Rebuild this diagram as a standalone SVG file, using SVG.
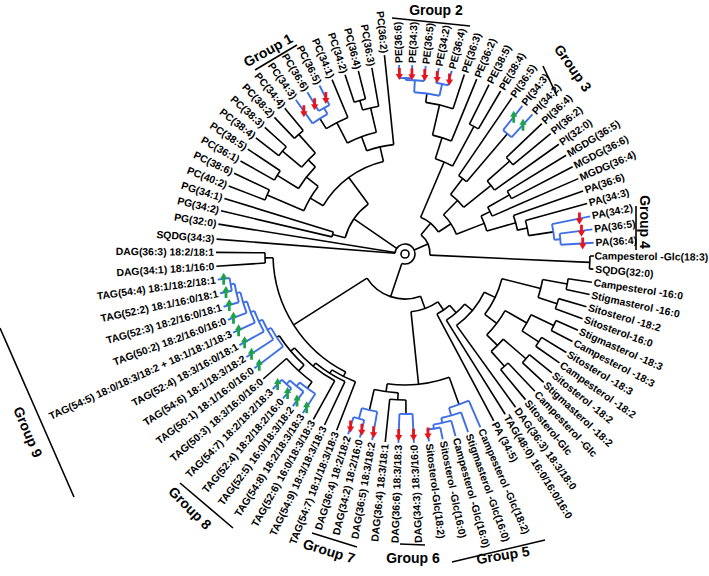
<svg xmlns="http://www.w3.org/2000/svg" width="709" height="576" viewBox="0 0 709 576">
<style>
.k line,.k circle{stroke:#000;stroke-width:1.6;fill:none}
.b line,.b circle{stroke:#3f6fe6;stroke-width:1.9;fill:none}
text{font-family:"Liberation Sans",Arial,sans-serif;fill:#000}
.l{font-size:10.4px;font-weight:bold;dominant-baseline:central}
.e{text-anchor:end}
.g{font-size:14px;font-weight:bold;text-anchor:middle;dominant-baseline:central}
.gl{stroke:#000;stroke-width:1.6}
</style>
<defs>
<path id="dn" d="M-1.4,-6H1.4V0H3.6L0,6L-3.6,0H-1.4Z" fill="#e8141c"/>
<path id="up" d="M-1.4,6H1.4V0H3.6L0,-6L-3.6,0H-1.4Z" fill="#1ca34a"/>
</defs>
<rect width="709" height="576" fill="#fff"/>
<g id="connectors" transform="translate(405 254)">
<g class="k">
<line x1="158" x2="166" transform="rotate(126.03)"/><line x1="158" x2="189" transform="rotate(138.6)"/><circle r="158" pathLength="360" stroke-dasharray="12.57 720" transform="rotate(126.03)"/>
<line x1="150" x2="158" transform="rotate(132.3)"/><line x1="150" x2="153" transform="rotate(146.97)"/><circle r="150" pathLength="360" stroke-dasharray="14.67 720" transform="rotate(132.3)"/>
<line x1="145" x2="189" transform="rotate(119)"/><line x1="145" x2="150" transform="rotate(139.6)"/><circle r="145" pathLength="360" stroke-dasharray="20.6 720" transform="rotate(119)"/>
<line x1="141" x2="189" transform="rotate(115.2)"/><line x1="141" x2="145" transform="rotate(129.3)"/><circle r="141" pathLength="360" stroke-dasharray="14.1 720" transform="rotate(115.2)"/>
<line x1="137" x2="189" transform="rotate(111.2)"/><line x1="137" x2="141" transform="rotate(122.25)"/><circle r="137" pathLength="360" stroke-dasharray="11.05 720" transform="rotate(111.2)"/>
<line x1="140" x2="189" transform="rotate(176.3)"/><line x1="140" x2="189" transform="rotate(180.5)"/><circle r="140" pathLength="360" stroke-dasharray="4.2 720" transform="rotate(176.3)"/>
<line x1="132" x2="137" transform="rotate(116.7)"/><line x1="132" x2="140" transform="rotate(178.4)"/><circle r="132" pathLength="360" stroke-dasharray="61.7 720" transform="rotate(116.7)"/>
<line x1="146" x2="160" transform="rotate(89.65)"/><line x1="146" x2="189" transform="rotate(96)"/><circle r="146" pathLength="360" stroke-dasharray="6.35 720" transform="rotate(89.65)"/>
<line x1="139" x2="146" transform="rotate(92.83)"/><line x1="139" x2="160" transform="rotate(102.83)"/><circle r="139" pathLength="360" stroke-dasharray="10 720" transform="rotate(92.83)"/>
<line x1="131" x2="160" transform="rotate(70.26)"/><line x1="131" x2="139" transform="rotate(97.83)"/><circle r="131" pathLength="360" stroke-dasharray="27.57 720" transform="rotate(70.26)"/>
<line x1="165" x2="189" transform="rotate(8.6)"/><line x1="165" x2="189" transform="rotate(12.4)"/><circle r="165" pathLength="360" stroke-dasharray="3.8 720" transform="rotate(8.6)"/>
<line x1="160" x2="189" transform="rotate(16.2)"/><line x1="160" x2="189" transform="rotate(20)"/><circle r="160" pathLength="360" stroke-dasharray="3.8 720" transform="rotate(16.2)"/>
<line x1="140" x2="165" transform="rotate(10.5)"/><line x1="140" x2="160" transform="rotate(18.1)"/><circle r="140" pathLength="360" stroke-dasharray="7.6 720" transform="rotate(10.5)"/>
<line x1="165" x2="189" transform="rotate(23.8)"/><line x1="165" x2="189" transform="rotate(27.6)"/><circle r="165" pathLength="360" stroke-dasharray="3.8 720" transform="rotate(23.8)"/>
<line x1="160" x2="189" transform="rotate(31.4)"/><line x1="160" x2="189" transform="rotate(35.2)"/><circle r="160" pathLength="360" stroke-dasharray="3.8 720" transform="rotate(31.4)"/>
<line x1="140" x2="165" transform="rotate(25.7)"/><line x1="140" x2="160" transform="rotate(33.3)"/><circle r="140" pathLength="360" stroke-dasharray="7.6 720" transform="rotate(25.7)"/>
<line x1="160" x2="189" transform="rotate(39)"/><line x1="160" x2="189" transform="rotate(42.8)"/><circle r="160" pathLength="360" stroke-dasharray="3.8 720" transform="rotate(39)"/>
<line x1="150" x2="189" transform="rotate(46.6)"/><line x1="150" x2="189" transform="rotate(50.4)"/><circle r="150" pathLength="360" stroke-dasharray="3.8 720" transform="rotate(46.6)"/>
<line x1="130" x2="160" transform="rotate(40.9)"/><line x1="130" x2="150" transform="rotate(48.5)"/><circle r="130" pathLength="360" stroke-dasharray="7.6 720" transform="rotate(40.9)"/>
<line x1="115" x2="140" transform="rotate(29.5)"/><line x1="115" x2="130" transform="rotate(44.7)"/><circle r="115" pathLength="360" stroke-dasharray="15.2 720" transform="rotate(29.5)"/>
<line x1="100" x2="140" transform="rotate(14.3)"/><line x1="100" x2="115" transform="rotate(37.1)"/><circle r="100" pathLength="360" stroke-dasharray="22.8 720" transform="rotate(14.3)"/>
<line x1="88" x2="100" transform="rotate(25.7)"/><line x1="88" x2="189" transform="rotate(54.2)"/><circle r="88" pathLength="360" stroke-dasharray="28.5 720" transform="rotate(25.7)"/>
<line x1="78" x2="88" transform="rotate(39.95)"/><line x1="78" x2="189" transform="rotate(58)"/><circle r="78" pathLength="360" stroke-dasharray="18.05 720" transform="rotate(39.95)"/>
<line x1="68" x2="78" transform="rotate(48.98)"/><line x1="68" x2="189" transform="rotate(62)"/><circle r="68" pathLength="360" stroke-dasharray="13.02 720" transform="rotate(48.98)"/>
<line x1="58" x2="68" transform="rotate(55.49)"/><line x1="58" x2="131" transform="rotate(84.05)"/><circle r="58" pathLength="360" stroke-dasharray="28.56 720" transform="rotate(55.49)"/>
<line x1="45" x2="58" transform="rotate(69.77)"/><line x1="45" x2="132" transform="rotate(147.55)"/><circle r="45" pathLength="360" stroke-dasharray="77.78 720" transform="rotate(69.77)"/>
<line x1="150" x2="189" transform="rotate(201.1)"/><line x1="150" x2="189" transform="rotate(205.3)"/><circle r="150" pathLength="360" stroke-dasharray="4.2 720" transform="rotate(201.1)"/>
<line x1="150" x2="189" transform="rotate(209.5)"/><line x1="150" x2="189" transform="rotate(213.7)"/><circle r="150" pathLength="360" stroke-dasharray="4.2 720" transform="rotate(209.5)"/>
<line x1="160" x2="189" transform="rotate(217.9)"/><line x1="160" x2="189" transform="rotate(222.1)"/><circle r="160" pathLength="360" stroke-dasharray="4.2 720" transform="rotate(217.9)"/>
<line x1="160" x2="189" transform="rotate(226.3)"/><line x1="160" x2="189" transform="rotate(230.5)"/><circle r="160" pathLength="360" stroke-dasharray="4.2 720" transform="rotate(226.3)"/>
<line x1="135" x2="160" transform="rotate(220)"/><line x1="135" x2="160" transform="rotate(228.4)"/><circle r="135" pathLength="360" stroke-dasharray="8.4 720" transform="rotate(220)"/>
<line x1="125" x2="150" transform="rotate(211.6)"/><line x1="125" x2="135" transform="rotate(224.2)"/><circle r="125" pathLength="360" stroke-dasharray="12.6 720" transform="rotate(211.6)"/>
<line x1="110" x2="150" transform="rotate(203.2)"/><line x1="110" x2="125" transform="rotate(217.9)"/><circle r="110" pathLength="360" stroke-dasharray="14.7 720" transform="rotate(203.2)"/>
<line x1="148" x2="160" transform="rotate(237.85)"/><line x1="148" x2="189" transform="rotate(247.3)"/><circle r="148" pathLength="360" stroke-dasharray="9.45 720" transform="rotate(237.85)"/>
<line x1="160" x2="189" transform="rotate(251.5)"/><line x1="160" x2="189" transform="rotate(255.7)"/><circle r="160" pathLength="360" stroke-dasharray="4.2 720" transform="rotate(251.5)"/>
<line x1="150" x2="160" transform="rotate(253.6)"/><line x1="150" x2="189" transform="rotate(259.9)"/><circle r="150" pathLength="360" stroke-dasharray="6.3 720" transform="rotate(253.6)"/>
<line x1="125" x2="148" transform="rotate(242.58)"/><line x1="125" x2="150" transform="rotate(256.75)"/><circle r="125" pathLength="360" stroke-dasharray="14.17 720" transform="rotate(242.58)"/>
<line x1="110" x2="125" transform="rotate(249.67)"/><line x1="110" x2="200" transform="rotate(264.1)"/><circle r="110" pathLength="360" stroke-dasharray="14.43 720" transform="rotate(249.67)"/>
<line x1="95" x2="110" transform="rotate(210.55)"/><line x1="95" x2="110" transform="rotate(256.89)"/><circle r="95" pathLength="360" stroke-dasharray="46.34 720" transform="rotate(210.55)"/>
<line x1="75" x2="189" transform="rotate(193.2)"/><line x1="75" x2="189" transform="rotate(197.1)"/><circle r="75" pathLength="360" stroke-dasharray="3.9 720" transform="rotate(193.2)"/>
<line x1="62" x2="75" transform="rotate(195.15)"/><line x1="62" x2="95" transform="rotate(233.72)"/><circle r="62" pathLength="360" stroke-dasharray="38.57 720" transform="rotate(195.15)"/>
<line x1="153" x2="162" transform="rotate(277.78)"/><line x1="153" x2="189" transform="rotate(288.3)"/><circle r="153" pathLength="360" stroke-dasharray="10.52 720" transform="rotate(277.78)"/>
<line x1="122" x2="153" transform="rotate(283.04)"/><line x1="122" x2="189" transform="rotate(292.3)"/><circle r="122" pathLength="360" stroke-dasharray="9.26 720" transform="rotate(283.04)"/>
<line x1="145" x2="189" transform="rotate(296.4)"/><line x1="145" x2="189" transform="rotate(300.4)"/><circle r="145" pathLength="360" stroke-dasharray="4 720" transform="rotate(296.4)"/>
<line x1="100" x2="122" transform="rotate(287.67)"/><line x1="100" x2="145" transform="rotate(298.4)"/><circle r="100" pathLength="360" stroke-dasharray="10.73 720" transform="rotate(287.67)"/>
<line x1="95" x2="189" transform="rotate(304.4)"/><line x1="95" x2="158" transform="rotate(310.4)"/><circle r="95" pathLength="360" stroke-dasharray="6 720" transform="rotate(304.4)"/>
<line x1="140" x2="189" transform="rotate(316.4)"/><line x1="140" x2="189" transform="rotate(320.4)"/><circle r="140" pathLength="360" stroke-dasharray="4 720" transform="rotate(316.4)"/>
<line x1="110" x2="140" transform="rotate(318.4)"/><line x1="110" x2="189" transform="rotate(324.5)"/><circle r="110" pathLength="360" stroke-dasharray="6.1 720" transform="rotate(318.4)"/>
<line x1="75" x2="95" transform="rotate(307.4)"/><line x1="75" x2="110" transform="rotate(321.45)"/><circle r="75" pathLength="360" stroke-dasharray="14.05 720" transform="rotate(307.4)"/>
<line x1="120" x2="189" transform="rotate(328.5)"/><line x1="120" x2="189" transform="rotate(332.5)"/><circle r="120" pathLength="360" stroke-dasharray="4 720" transform="rotate(328.5)"/>
<line x1="95" x2="120" transform="rotate(330.5)"/><line x1="95" x2="189" transform="rotate(336.5)"/><circle r="95" pathLength="360" stroke-dasharray="6 720" transform="rotate(330.5)"/>
<line x1="125" x2="189" transform="rotate(344.5)"/><line x1="125" x2="150" transform="rotate(351.53)"/><circle r="125" pathLength="360" stroke-dasharray="7.03 720" transform="rotate(344.5)"/>
<line x1="115" x2="189" transform="rotate(340.5)"/><line x1="115" x2="125" transform="rotate(348.02)"/><circle r="115" pathLength="360" stroke-dasharray="7.76 720" transform="rotate(340.5)"/>
<line x1="85" x2="95" transform="rotate(333.5)"/><line x1="85" x2="115" transform="rotate(344.26)"/><circle r="85" pathLength="360" stroke-dasharray="10.76 720" transform="rotate(333.5)"/>
<line x1="55" x2="75" transform="rotate(314.43)"/><line x1="55" x2="85" transform="rotate(338.88)"/><circle r="55" pathLength="360" stroke-dasharray="24.45 720" transform="rotate(314.43)"/>
<line x1="40" x2="100" transform="rotate(293.04)"/><line x1="40" x2="55" transform="rotate(326.66)"/><circle r="40" pathLength="360" stroke-dasharray="33.62 720" transform="rotate(293.04)"/>
<line x1="185" x2="189" transform="rotate(0.6)"/><line x1="185" x2="189" transform="rotate(4.6)"/><circle r="185" pathLength="360" stroke-dasharray="4 720" transform="rotate(0.6)"/>
<line x1="25" x2="40" transform="rotate(309.85)"/><line x1="25" x2="185" transform="rotate(2.6)"/><circle r="25" pathLength="360" stroke-dasharray="52.75 720" transform="rotate(309.85)"/>
<line x1="10" x2="189" transform="rotate(184.5)"/><line x1="10" x2="189" transform="rotate(189.1)"/><line x1="10" x2="62" transform="rotate(214.44)"/><line x1="10" x2="25" transform="rotate(336.23)"/><line x1="10" x2="45" transform="rotate(108.66)"/><circle r="10" pathLength="360" stroke-dasharray="284.16 720" transform="rotate(184.5)"/>
<circle r="4"/>
</g>
<g class="b">
<line x1="177" x2="189" transform="rotate(172.2)"/><line x1="177" x2="189" transform="rotate(168)"/><circle r="177" pathLength="360" stroke-dasharray="4.2 720" transform="rotate(168)"/>
<line x1="173" x2="177" transform="rotate(170.1)"/><line x1="173" x2="189" transform="rotate(163.8)"/><circle r="173" pathLength="360" stroke-dasharray="6.3 720" transform="rotate(163.8)"/>
<line x1="169" x2="173" transform="rotate(166.95)"/><line x1="169" x2="189" transform="rotate(159.6)"/><circle r="169" pathLength="360" stroke-dasharray="7.35 720" transform="rotate(159.6)"/>
<line x1="165" x2="169" transform="rotate(163.28)"/><line x1="165" x2="189" transform="rotate(155.4)"/><circle r="165" pathLength="360" stroke-dasharray="7.88 720" transform="rotate(155.4)"/>
<line x1="161" x2="165" transform="rotate(159.34)"/><line x1="161" x2="189" transform="rotate(151.2)"/><circle r="161" pathLength="360" stroke-dasharray="8.14 720" transform="rotate(151.2)"/>
<line x1="157" x2="161" transform="rotate(155.27)"/><line x1="157" x2="189" transform="rotate(147)"/><circle r="157" pathLength="360" stroke-dasharray="8.27 720" transform="rotate(147)"/>
<line x1="153" x2="157" transform="rotate(151.14)"/><line x1="153" x2="189" transform="rotate(142.8)"/><circle r="153" pathLength="360" stroke-dasharray="8.34 720" transform="rotate(142.8)"/>
<line x1="176" x2="189" transform="rotate(134.4)"/><line x1="176" x2="189" transform="rotate(130.2)"/><circle r="176" pathLength="360" stroke-dasharray="4.2 720" transform="rotate(130.2)"/>
<line x1="171" x2="176" transform="rotate(132.3)"/><line x1="171" x2="189" transform="rotate(126.4)"/><circle r="171" pathLength="360" stroke-dasharray="5.9 720" transform="rotate(126.4)"/>
<line x1="166" x2="171" transform="rotate(129.35)"/><line x1="166" x2="189" transform="rotate(122.7)"/><circle r="166" pathLength="360" stroke-dasharray="6.65 720" transform="rotate(122.7)"/>
<line x1="171" x2="189" transform="rotate(107.5)"/><line x1="171" x2="189" transform="rotate(103.8)"/><circle r="171" pathLength="360" stroke-dasharray="3.7 720" transform="rotate(103.8)"/>
<line x1="160" x2="171" transform="rotate(105.65)"/><line x1="160" x2="189" transform="rotate(100)"/><circle r="160" pathLength="360" stroke-dasharray="5.65 720" transform="rotate(100)"/>
<line x1="160" x2="189" transform="rotate(92)"/><line x1="160" x2="189" transform="rotate(87.3)"/><circle r="160" pathLength="360" stroke-dasharray="4.7 720" transform="rotate(87.3)"/>
<line x1="177" x2="189" transform="rotate(82.7)"/><line x1="177" x2="189" transform="rotate(78.5)"/><circle r="177" pathLength="360" stroke-dasharray="4.2 720" transform="rotate(78.5)"/>
<line x1="173" x2="177" transform="rotate(80.6)"/><line x1="173" x2="189" transform="rotate(74.5)"/><circle r="173" pathLength="360" stroke-dasharray="6.1 720" transform="rotate(74.5)"/>
<line x1="168" x2="173" transform="rotate(77.55)"/><line x1="168" x2="189" transform="rotate(70.5)"/><circle r="168" pathLength="360" stroke-dasharray="7.05 720" transform="rotate(70.5)"/>
<line x1="160" x2="168" transform="rotate(74.03)"/><line x1="160" x2="189" transform="rotate(66.5)"/><circle r="160" pathLength="360" stroke-dasharray="7.53 720" transform="rotate(66.5)"/>
<line x1="167" x2="189" transform="rotate(238.9)"/><line x1="167" x2="189" transform="rotate(243.1)"/><circle r="167" pathLength="360" stroke-dasharray="4.2 720" transform="rotate(238.9)"/>
<line x1="160" x2="189" transform="rotate(234.7)"/><line x1="160" x2="167" transform="rotate(241)"/><circle r="160" pathLength="360" stroke-dasharray="6.3 720" transform="rotate(234.7)"/>
<line x1="176" x2="189" transform="rotate(268.2)"/><line x1="176" x2="189" transform="rotate(272.2)"/><circle r="176" pathLength="360" stroke-dasharray="4 720" transform="rotate(268.2)"/>
<line x1="174" x2="176" transform="rotate(270.2)"/><line x1="174" x2="189" transform="rotate(276.3)"/><circle r="174" pathLength="360" stroke-dasharray="6.1 720" transform="rotate(270.2)"/>
<line x1="174" x2="189" transform="rotate(280.3)"/><line x1="174" x2="189" transform="rotate(284.3)"/><circle r="174" pathLength="360" stroke-dasharray="4 720" transform="rotate(280.3)"/>
<line x1="162" x2="174" transform="rotate(273.25)"/><line x1="162" x2="174" transform="rotate(282.3)"/><circle r="162" pathLength="360" stroke-dasharray="9.05 720" transform="rotate(273.25)"/>
<line x1="158" x2="189" transform="rotate(308.4)"/><line x1="158" x2="189" transform="rotate(312.4)"/><circle r="158" pathLength="360" stroke-dasharray="4 720" transform="rotate(308.4)"/>
<line x1="156" x2="189" transform="rotate(352.5)"/><line x1="156" x2="189" transform="rotate(356.6)"/><circle r="156" pathLength="360" stroke-dasharray="4.1 720" transform="rotate(352.5)"/>
<line x1="150" x2="189" transform="rotate(348.5)"/><line x1="150" x2="156" transform="rotate(354.55)"/><circle r="150" pathLength="360" stroke-dasharray="6.05 720" transform="rotate(348.5)"/>
</g>
<g id="arrows">
<use href="#dn" transform="rotate(234.7) translate(175 0) rotate(-234.7)"/>
<use href="#dn" transform="rotate(238.9) translate(175 0) rotate(-238.9)"/>
<use href="#dn" transform="rotate(243.1) translate(175 0) rotate(-243.1)"/>
<use href="#dn" transform="rotate(268.2) translate(180 0) rotate(-268.2)"/>
<use href="#dn" transform="rotate(272.2) translate(180 0) rotate(-272.2)"/>
<use href="#dn" transform="rotate(276.3) translate(180 0) rotate(-276.3)"/>
<use href="#dn" transform="rotate(280.3) translate(180 0) rotate(-280.3)"/>
<use href="#dn" transform="rotate(284.3) translate(180 0) rotate(-284.3)"/>
<use href="#up" transform="rotate(308.4) translate(175 0) rotate(-308.4)"/>
<use href="#up" transform="rotate(312.4) translate(175 0) rotate(-312.4)"/>
<use href="#dn" transform="rotate(348.5) translate(178 0) rotate(-348.5)"/>
<use href="#dn" transform="rotate(352.5) translate(178 0) rotate(-352.5)"/>
<use href="#dn" transform="rotate(356.6) translate(178 0) rotate(-356.6)"/>
<use href="#dn" transform="rotate(82.7) translate(181 0) rotate(-82.7)"/>
<use href="#dn" transform="rotate(87.3) translate(181 0) rotate(-87.3)"/>
<use href="#dn" transform="rotate(92) translate(181 0) rotate(-92)"/>
<use href="#dn" transform="rotate(100) translate(181 0) rotate(-100)"/>
<use href="#dn" transform="rotate(103.8) translate(181 0) rotate(-103.8)"/>
<use href="#dn" transform="rotate(107.5) translate(181 0) rotate(-107.5)"/>
<use href="#up" transform="rotate(122.7) translate(182 0) rotate(-122.7)"/>
<use href="#up" transform="rotate(126.4) translate(182 0) rotate(-126.4)"/>
<use href="#up" transform="rotate(130.2) translate(182 0) rotate(-130.2)"/>
<use href="#up" transform="rotate(134.4) translate(182 0) rotate(-134.4)"/>
<use href="#up" transform="rotate(142.8) translate(183 0) rotate(-142.8)"/>
<use href="#up" transform="rotate(147) translate(183 0) rotate(-147)"/>
<use href="#up" transform="rotate(151.2) translate(183 0) rotate(-151.2)"/>
<use href="#up" transform="rotate(155.4) translate(183 0) rotate(-155.4)"/>
<use href="#up" transform="rotate(159.6) translate(183 0) rotate(-159.6)"/>
<use href="#up" transform="rotate(163.8) translate(183 0) rotate(-163.8)"/>
<use href="#up" transform="rotate(168) translate(183 0) rotate(-168)"/>
<use href="#up" transform="rotate(172.2) translate(183 0) rotate(-172.2)"/>
</g>
</g>
<g id="labels" transform="translate(405 254)">
<text class="l e" transform="rotate(180.5) translate(191 0) rotate(180)">DAG(36:3) 18:2/18:1</text>
<text class="l e" transform="rotate(184.5) translate(191 0) rotate(180)">SQDG(34:3)</text>
<text class="l e" transform="rotate(189.1) translate(191 0) rotate(180)">PG(32:0)</text>
<text class="l e" transform="rotate(193.2) translate(191 0) rotate(180)">PG(34:2)</text>
<text class="l e" transform="rotate(197.1) translate(191 0) rotate(180)">PG(34:1)</text>
<text class="l e" transform="rotate(201.1) translate(191 0) rotate(180)">PC(40:2)</text>
<text class="l e" transform="rotate(205.3) translate(191 0) rotate(180)">PC(38:6)</text>
<text class="l e" transform="rotate(209.5) translate(191 0) rotate(180)">PC(36:1)</text>
<text class="l e" transform="rotate(213.7) translate(191 0) rotate(180)">PC(38:5)</text>
<text class="l e" transform="rotate(217.9) translate(191 0) rotate(180)">PC(38:4)</text>
<text class="l e" transform="rotate(222.1) translate(191 0) rotate(180)">PC(38:3)</text>
<text class="l e" transform="rotate(226.3) translate(191 0) rotate(180)">PC(38:2)</text>
<text class="l e" transform="rotate(230.5) translate(191 0) rotate(180)">PC(34:4)</text>
<text class="l e" transform="rotate(234.7) translate(191 0) rotate(180)">PC(34:3)</text>
<text class="l e" transform="rotate(238.9) translate(191 0) rotate(180)">PC(36:6)</text>
<text class="l e" transform="rotate(243.1) translate(191 0) rotate(180)">PC(36:5)</text>
<text class="l e" transform="rotate(247.3) translate(191 0) rotate(180)">PC(34:1)</text>
<text class="l e" transform="rotate(251.5) translate(191 0) rotate(180)">PC(34:2)</text>
<text class="l e" transform="rotate(255.7) translate(191 0) rotate(180)">PC(36:4)</text>
<text class="l e" transform="rotate(259.9) translate(191 0) rotate(180)">PC(36:3)</text>
<text class="l e" transform="rotate(264.1) translate(202 0) rotate(180)">PC(36:2)</text>
<text class="l" transform="rotate(268.2) translate(191 0)">PE(36:6)</text>
<text class="l" transform="rotate(272.2) translate(191 0)">PE(34:3)</text>
<text class="l" transform="rotate(276.3) translate(191 0)">PE(36:5)</text>
<text class="l" transform="rotate(280.3) translate(191 0)">PE(34:2)</text>
<text class="l" transform="rotate(284.3) translate(191 0)">PE(36:4)</text>
<text class="l" transform="rotate(288.3) translate(191 0)">PE(36:3)</text>
<text class="l" transform="rotate(292.3) translate(191 0)">PE(36:2)</text>
<text class="l" transform="rotate(296.4) translate(191 0)">PE(38:5)</text>
<text class="l" transform="rotate(300.4) translate(191 0)">PE(38:4)</text>
<text class="l" transform="rotate(304.4) translate(191 0)">PI(36:5)</text>
<text class="l" transform="rotate(308.4) translate(191 0)">PI(34:3)</text>
<text class="l" transform="rotate(312.4) translate(191 0)">PI(34:2)</text>
<text class="l" transform="rotate(316.4) translate(191 0)">PI(36:4)</text>
<text class="l" transform="rotate(320.4) translate(191 0)">PI(36:2)</text>
<text class="l" transform="rotate(324.5) translate(191 0)">PI(32:0)</text>
<text class="l" transform="rotate(328.5) translate(191 0)">MGDG(36:5)</text>
<text class="l" transform="rotate(332.5) translate(191 0)">MGDG(36:6)</text>
<text class="l" transform="rotate(336.5) translate(191 0)">MGDG(36:4)</text>
<text class="l" transform="rotate(340.5) translate(191 0)">PA(36:6)</text>
<text class="l" transform="rotate(344.5) translate(191 0)">PA(34:3)</text>
<text class="l" transform="rotate(348.5) translate(191 0)">PA(34:2)</text>
<text class="l" transform="rotate(352.5) translate(191 0)">PA(36:5)</text>
<text class="l" transform="rotate(356.6) translate(191 0)">PA(36:4)</text>
<text class="l" transform="rotate(0.6) translate(189.5 0)">Campesterol -Glc(18:3)</text>
<text class="l" transform="rotate(4.6) translate(191 0)">SQDG(32:0)</text>
<text class="l" transform="rotate(8.6) translate(191 0)">Campesterol -16:0</text>
<text class="l" transform="rotate(12.4) translate(191 0)">Stigmasterol -16:0</text>
<text class="l" transform="rotate(16.2) translate(191 0)">Sitosterol -18:2</text>
<text class="l" transform="rotate(20) translate(191 0)">Sitosterol-16:0</text>
<text class="l" transform="rotate(23.8) translate(191 0)">Stigmasterol -18:3</text>
<text class="l" transform="rotate(27.6) translate(191 0)">Campesterol -18:3</text>
<text class="l" transform="rotate(31.4) translate(191 0)">Sitosterol -18:3</text>
<text class="l" transform="rotate(35.2) translate(191 0)">Campesterol -18:2</text>
<text class="l" transform="rotate(39) translate(191 0)">Sitosterol -18:2</text>
<text class="l" transform="rotate(42.8) translate(191 0)">Stigmasterol -18:2</text>
<text class="l" transform="rotate(46.6) translate(191 0)">Campesterol -Glc</text>
<text class="l" transform="rotate(50.4) translate(191 0)">Sitosterol-Glc</text>
<text class="l" transform="rotate(54.2) translate(191 0)">DAG(36:3) 18:3/18:0</text>
<text class="l" transform="rotate(58) translate(191 0)">TAG(48:0) 16:0/16:0/16:0</text>
<text class="l" transform="rotate(62) translate(191 0)">PA (34:5)</text>
<text class="l" transform="rotate(66.5) translate(191 0)">Campesterol -Glc(18:2)</text>
<text class="l" transform="rotate(70.5) translate(191 0)">Stigmasterol -Glc(16:0)</text>
<text class="l" transform="rotate(74.5) translate(191 0)">Campesterol -Glc(16:0)</text>
<text class="l" transform="rotate(78.5) translate(191 0)">Sitosterol -Glc(16:0)</text>
<text class="l" transform="rotate(82.7) translate(191 0)">Sitosterol-Glc(18:2)</text>
<text class="l e" transform="rotate(87.3) translate(191 0) rotate(180)">DAG(34:3) 18:3/16:0</text>
<text class="l e" transform="rotate(92) translate(191 0) rotate(180)">DAG(36:6) 18:3/18:3</text>
<text class="l e" transform="rotate(96) translate(191 0) rotate(180)">DAG(36:4) 18:3/18:1</text>
<text class="l e" transform="rotate(100) translate(191 0) rotate(180)">DAG(36:5) 18:3/18:2</text>
<text class="l e" transform="rotate(103.8) translate(191 0) rotate(180)">DAG(34:2) 18:2/16:0</text>
<text class="l e" transform="rotate(107.5) translate(191 0) rotate(180)">DAG(36:4) 18:2/18:2</text>
<text class="l e" transform="rotate(111.2) translate(191 0) rotate(180)">TAG(54:7) 18:1/18:3/18:3</text>
<text class="l e" transform="rotate(115.2) translate(191 0) rotate(180)">TAG(54:9) 18:3/18:3/18:3</text>
<text class="l e" transform="rotate(119) translate(191 0) rotate(180)">TAG(52:6) 16:0/18:3/18:3</text>
<text class="l e" transform="rotate(122.7) translate(191 0) rotate(180)">TAG(54:8) 18:2/18:3/18:3</text>
<text class="l e" transform="rotate(126.4) translate(191 0) rotate(180)">TAG(52:5) 16:0/18:3/18:2</text>
<text class="l e" transform="rotate(130.2) translate(191 0) rotate(180)">TAG(52:4) 18:2/18:2/16:0</text>
<text class="l e" transform="rotate(134.4) translate(191 0) rotate(180)">TAG(54:7) 18:2/18:2/18:3</text>
<text class="l e" transform="rotate(138.6) translate(191 0) rotate(180)">TAG(50:3) 18:3/16:0/16:0</text>
<text class="l e" transform="rotate(142.8) translate(191 0) rotate(180)">TAG(50:1) 18:1/16:0/16:0</text>
<text class="l e" transform="rotate(147) translate(191 0) rotate(180)">TAG(54:6) 18:1/18:3/18:2</text>
<text class="l e" transform="rotate(151.2) translate(191 0) rotate(180)">TAG(52:4) 18:3/16:0/18:1</text>
<text class="l e" transform="rotate(155.4) translate(191 0) rotate(180)">TAG(54:5) 18:0/18:3/18:2 + 18:1/18:1/18:3</text>
<text class="l e" transform="rotate(159.6) translate(191 0) rotate(180)">TAG(50:2) 18:2/16:0/16:0</text>
<text class="l e" transform="rotate(163.8) translate(191 0) rotate(180)">TAG(52:3) 18:2/16:0/18:1</text>
<text class="l e" transform="rotate(168) translate(191 0) rotate(180)">TAG(52:2) 18:1/16:0/18:1</text>
<text class="l e" transform="rotate(172.2) translate(191 0) rotate(180)">TAG(54:4) 18:1/18:2/18:1</text>
<text class="l e" transform="rotate(176.3) translate(191 0) rotate(180)">DAG(34:1) 18:1/16:0</text>
</g>
<g id="groups">
<g id="group1"><line class="gl" x1="255" y1="70" x2="297" y2="45"/><text class="g" transform="translate(268 50) rotate(-29)">Group 1</text></g>
<g id="group2"><line class="gl" x1="392" y1="18" x2="470" y2="26"/><text class="g" x="436" y="10">Group 2</text></g>
<g id="group3"><line class="gl" x1="543" y1="66" x2="557" y2="96"/><text class="g" transform="translate(573 68) rotate(55)">Group 3</text></g>
<g id="group4"><line class="gl" x1="636" y1="206" x2="636" y2="250"/><text class="g" transform="translate(645 222) rotate(90)">Group 4</text></g>
<g id="group5"><line class="gl" x1="452" y1="562" x2="545" y2="540"/><text class="g" transform="translate(503 555) rotate(-9)">Group 5</text></g>
<g id="group6"><line class="gl" x1="400" y1="544" x2="425" y2="545"/><text class="g" x="413" y="558">Group 6</text></g>
<g id="group7"><line class="gl" x1="312" y1="533" x2="357" y2="547"/><text class="g" transform="translate(329 551) rotate(17)">Group 7</text></g>
<g id="group8"><line class="gl" x1="180" y1="483" x2="233" y2="528"/><text class="g" transform="translate(190 508) rotate(45)">Group 8</text></g>
<g id="group9"><line class="gl" x1="0" y1="328" x2="74" y2="497"/><text class="g" transform="translate(28 432) rotate(67)">Group 9</text></g>
</g>
</svg>
